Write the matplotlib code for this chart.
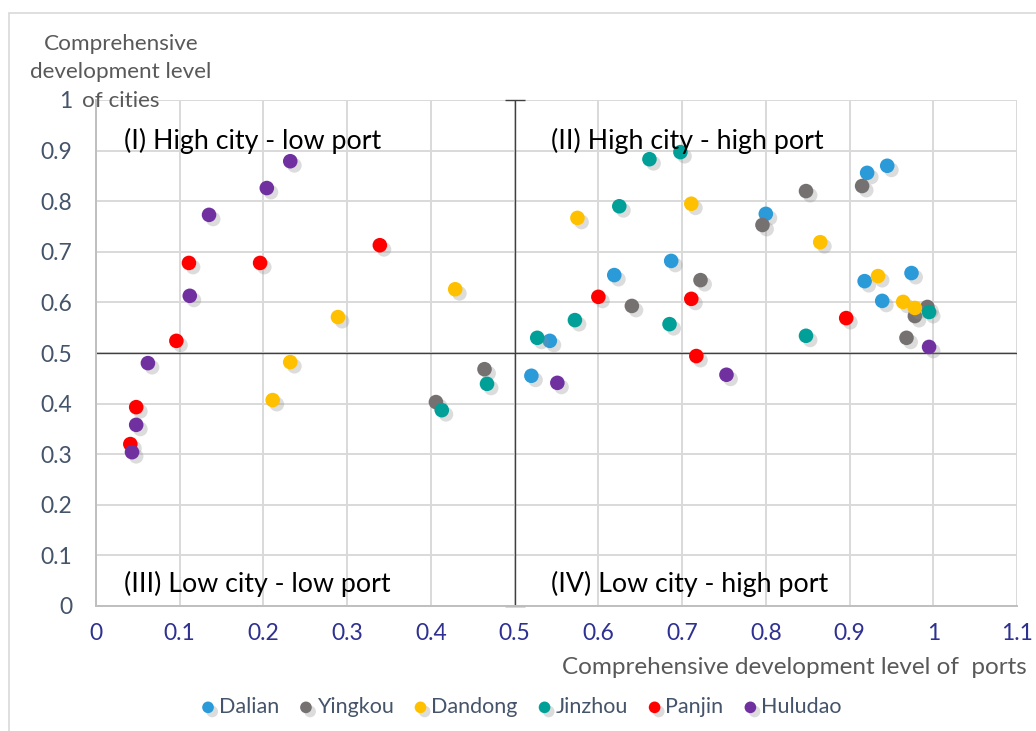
import matplotlib.pyplot as plt
import matplotlib.patheffects as pe
from matplotlib.patches import Rectangle

# port level (x) / city level (y) per city
dalian_x = [0.945, 0.921, 0.800, 0.918, 0.974, 0.939, 0.687, 0.619, 0.542, 0.520]
dalian_y = [0.870, 0.856, 0.775, 0.642, 0.658, 0.603, 0.682, 0.654, 0.524, 0.455]

yingkou_x = [0.848, 0.915, 0.796, 0.722, 0.640, 0.978, 0.993, 0.968, 0.464, 0.406]
yingkou_y = [0.820, 0.830, 0.753, 0.644, 0.593, 0.573, 0.591, 0.530, 0.468, 0.403]

dandong_x = [0.575, 0.711, 0.865, 0.934, 0.964, 0.978, 0.429, 0.289, 0.232, 0.211]
dandong_y = [0.767, 0.795, 0.719, 0.652, 0.601, 0.589, 0.626, 0.571, 0.482, 0.407]

jinzhou_x = [0.661, 0.698, 0.625, 0.572, 0.527, 0.685, 0.848, 0.995, 0.467, 0.413]
jinzhou_y = [0.883, 0.897, 0.790, 0.565, 0.530, 0.557, 0.534, 0.581, 0.439, 0.387]

panjin_x = [0.600, 0.711, 0.717, 0.896, 0.339, 0.196, 0.111, 0.096, 0.048, 0.041]
panjin_y = [0.611, 0.607, 0.494, 0.569, 0.713, 0.678, 0.678, 0.524, 0.393, 0.320]

huludao_x = [0.232, 0.204, 0.135, 0.112, 0.062, 0.048, 0.043, 0.551, 0.753, 0.995]
huludao_y = [0.879, 0.826, 0.773, 0.613, 0.480, 0.358, 0.304, 0.441, 0.457, 0.512]

cities = ["Dalian", "Yingkou", "Dandong", "Jinzhou", "Panjin", "Huludao"]
xs = [dalian_x, yingkou_x, dandong_x, jinzhou_x, panjin_x, huludao_x]
ys = [dalian_y, yingkou_y, dandong_y, jinzhou_y, panjin_y, huludao_y]
colors = ["#2a9ad8", "#767171", "#ffc000", "#00a098", "#ff0000", "#7030a0"]

x_ticks = [0, 0.1, 0.2, 0.3, 0.4, 0.5, 0.6, 0.7, 0.8, 0.9, 1, 1.1]
y_ticks = [0, 0.1, 0.2, 0.3, 0.4, 0.5, 0.6, 0.7, 0.8, 0.9, 1]
y_title_lines = ["Comprehensive", "development level", "of cities"]

plt.rcParams['font.family'] = ['Lato', 'DejaVu Sans']

fig = plt.figure(figsize=(10.36, 7.31), dpi=100)
ax = fig.add_axes([96 / 1036, 125 / 731, 921 / 1036, 506 / 731])

# outer chart border
fig.patches.append(Rectangle((9 / 1036, -0.05), 1.1, (731 - 13) / 731 + 0.05,
                             transform=fig.transFigure, fill=False,
                             edgecolor="#d9d9d9", linewidth=1.2))

ax.set_xlim(0, 1.1)
ax.set_ylim(0, 1)
ax.set_xticks(x_ticks)
ax.set_xticklabels([f"{t:g}" for t in x_ticks])
ax.set_yticks(y_ticks)
ax.set_yticklabels([f"{t:g}" for t in y_ticks])
ax.tick_params(length=0, labelsize=16.5)
ax.tick_params(axis='x', colors="#2e3192", pad=12)
ax.tick_params(axis='y', colors="#44546a", pad=17)
ax.grid(True, color="#d9d9d9", linewidth=1.4)
ax.set_axisbelow(True)
for s in ax.spines.values():
    s.set_visible(False)
ax.spines['left'].set_visible(True)
ax.spines['left'].set_color("#bfbfbf")
ax.spines['left'].set_linewidth(1.4)
ax.spines['bottom'].set_visible(True)
ax.spines['bottom'].set_color("#bfbfbf")
ax.spines['bottom'].set_linewidth(1.4)

# quadrant dividers
ax.plot([0.5, 0.5], [0, 1], color="#404040", linewidth=1.0, zorder=2)
ax.plot([0.5, 0.5], [0, 1], color="#404040", linestyle="none", marker="_",
        markersize=14, markeredgewidth=1.0, zorder=2, clip_on=False)
ax.plot([0, 1.1], [0.5, 0.5], color="#404040", linewidth=1.0, zorder=2)

shadow = [pe.SimplePatchShadow(offset=(3, -3), shadow_rgbFace="#8c8c8c", alpha=0.3),
          pe.Normal()]
for name, x, y, c in zip(cities, xs, ys, colors):
    ax.scatter(x, y, s=110, color=c, edgecolors="none", label=name, zorder=3,
               path_effects=shadow)

qfont = dict(fontsize=19.3, color="black", zorder=4)
ax.text(0.034, 0.92, "(I) High city - low port", ha="left", va="center", **qfont)
ax.text(0.544, 0.92, "(II) High city - high port", ha="left", va="center", **qfont)
ax.text(0.034, 0.043, "(III) Low city - low port", ha="left", va="center", **qfont)
ax.text(0.544, 0.043, "(IV) Low city - high port", ha="left", va="center", **qfont)

# y title, one text per line as in the reference
for k, line in enumerate(y_title_lines):
    fig.text(121 / 1036, 1 - (44 + 28.5 * k) / 731, line,
             ha="center", va="center", fontsize=16.2, color="#595959")
fig.text(1027 / 1036, 1 - 668 / 731, "Comprehensive development level of  ports",
         ha="right", va="center", fontsize=17.5, color="#595959")

leg = fig.legend(loc="center", bbox_to_anchor=(520 / 1036, 1 - 707 / 731), ncol=6,
                 frameon=False, fontsize=15.5, handletextpad=0.05, columnspacing=0.8,
                 markerscale=0.8, handlelength=0.9)
for t in leg.get_texts():
    t.set_color("#44546a")

fig.savefig("out.png", dpi=100)
